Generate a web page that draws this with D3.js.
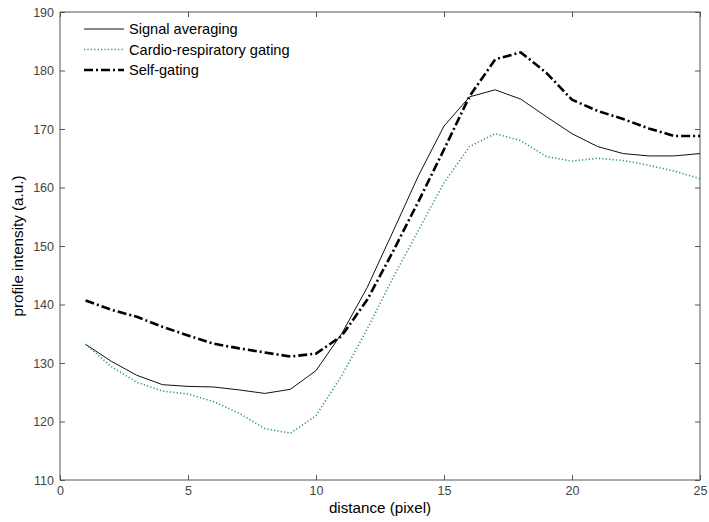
<!DOCTYPE html>
<html>
<head>
<meta charset="utf-8">
<script src="https://cdn.jsdelivr.net/npm/d3@7"></script>
<style>
  html, body { margin: 0; padding: 0; background: #fff; }
  svg { display: block; }
</style>
</head>
<body>
<svg id="chart" width="709" height="522"></svg>
<script>
const xValues = [1,2,3,4,5,6,7,8,9,10,11,12,13,14,15,16,17,18,19,20,21,22,23,24,25];
const signalAveraging = [133.2,130.3,127.9,126.3,126.0,125.9,125.4,124.8,125.5,128.7,135.0,142.9,152.4,162.0,170.5,175.5,176.7,175.1,172.1,169.2,167.0,165.8,165.4,165.4,165.8];
const cardioGating = [133.2,129.4,126.7,125.2,124.7,123.4,121.4,118.8,118.0,121.0,127.8,135.8,144.5,152.7,160.8,167.0,169.2,168.0,165.3,164.5,165.0,164.6,163.8,162.8,161.5];
const selfGating = [140.7,139.1,137.9,136.2,134.7,133.3,132.5,131.8,131.1,131.6,134.6,140.8,149.0,157.6,166.5,175.6,181.9,183.1,179.6,175.0,173.1,171.7,170.1,168.8,168.8];
const seriesNames = ["Signal averaging", "Cardio-respiratory gating", "Self-gating"];
const xTicks = [0,5,10,15,20,25];
const yTicks = [110,120,130,140,150,160,170,180,190];
const xDomain = [0,25];
const yDomain = [110,190];
const xLabel = "distance (pixel)";
const yLabel = "profile intensity (a.u.)";

(function () {
const svg = d3.select("#chart");
const mLeft = 60, mRight = 700, mTop = 12, mBottom = 480;
const x = d3.scaleLinear().domain(xDomain).range([mLeft, mRight]);
const y = d3.scaleLinear().domain(yDomain).range([mBottom, mTop]);

const styles = [
  {stroke: "#111", width: 1, dash: null},
  {stroke: "#2e9a5c", width: 1.6, dash: "1.2,2.2"},
  {stroke: "#000", width: 2.6, dash: "9,3,2,3"}
];
const seriesData = [signalAveraging, cardioGating, selfGating];

const font = "'Liberation Sans', Arial, sans-serif";
const axisColor = "#555";

function styleAxis(g) {
  g.select(".domain").remove();
  g.selectAll("line").attr("stroke", axisColor);
  g.selectAll("text").attr("fill", "#444").style("font-family", font).style("font-size", "12.5px");
}
svg.append("g").attr("transform", `translate(0,${mBottom})`)
  .call(d3.axisBottom(x).tickValues(xTicks).tickSizeInner(-5).tickSizeOuter(0).tickPadding(6).tickFormat(d3.format("d")))
  .call(styleAxis);
svg.append("g").attr("transform", `translate(0,${mTop})`)
  .call(d3.axisTop(x).tickValues(xTicks).tickSizeInner(-5).tickSizeOuter(0).tickFormat(""))
  .call(styleAxis);
svg.append("g").attr("transform", `translate(${mLeft},0)`)
  .call(d3.axisLeft(y).tickValues(yTicks).tickSizeInner(-5).tickSizeOuter(0).tickPadding(6).tickFormat(d3.format("d")))
  .call(styleAxis);
svg.append("g").attr("transform", `translate(${mRight},0)`)
  .call(d3.axisRight(y).tickValues(yTicks).tickSizeInner(-5).tickSizeOuter(0).tickFormat(""))
  .call(styleAxis);

svg.append("rect").attr("x", mLeft).attr("y", mTop).attr("width", mRight-mLeft).attr("height", mBottom-mTop)
  .attr("fill", "none").attr("stroke", axisColor).attr("stroke-width", 1);

const line = d3.line().x((d,i) => x(xValues[i])).y(d => y(d));
svg.append("clipPath").attr("id", "plotclip").append("rect")
  .attr("x", mLeft).attr("y", mTop).attr("width", mRight-mLeft).attr("height", mBottom-mTop);
seriesData.forEach((s, k) => {
  svg.append("path").datum(s)
    .attr("d", line)
    .attr("fill", "none")
    .attr("stroke", styles[k].stroke)
    .attr("stroke-width", styles[k].width)
    .attr("stroke-dasharray", styles[k].dash)
    .attr("clip-path", "url(#plotclip)");
});

const legendX = 84, legendY = 29, rowH = 20.5;
seriesNames.forEach((name, k) => {
  const yy = legendY + k * rowH;
  svg.append("line").attr("x1", legendX).attr("x2", legendX + 40).attr("y1", yy).attr("y2", yy)
    .attr("stroke", styles[k].stroke).attr("stroke-width", styles[k].width)
    .attr("stroke-dasharray", styles[k].dash);
  svg.append("text").attr("x", legendX + 45).attr("y", yy).attr("dy", "0.35em")
    .style("font-family", font).style("font-size", "14.6px").attr("fill", "#000").text(name);
});

svg.append("text").attr("x", (mLeft+mRight)/2).attr("y", 513).attr("text-anchor", "middle")
  .style("font-family", font).style("font-size", "15.2px").attr("fill", "#000").text(xLabel);
svg.append("text").attr("transform", `translate(23,${(mTop+mBottom)/2}) rotate(-90)`).attr("text-anchor", "middle")
  .style("font-family", font).style("font-size", "15.2px").attr("fill", "#000").text(yLabel);
})();
</script>
</body>
</html>
